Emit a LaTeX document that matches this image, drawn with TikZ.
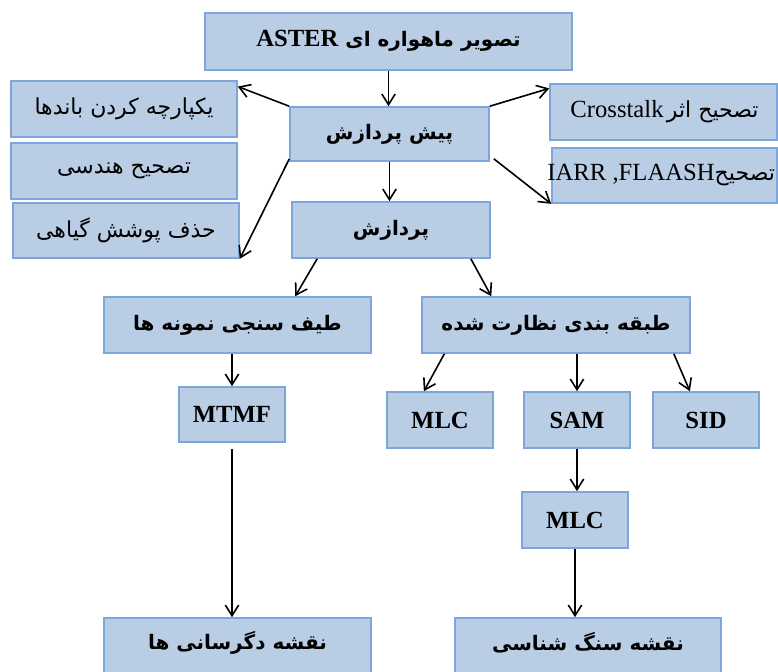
\documentclass[tikz,border=0pt]{standalone}
\usepackage{fontspec}
\setmainfont{Liberation Serif}
\newfontfamily\fa[Script=Arabic]{DejaVu Sans}
\TeXXeTstate=1
\usetikzlibrary{arrows.meta,calc,fit}
\definecolor{boxfill}{HTML}{B9CDE5}
\definecolor{boxline}{HTML}{7EA6DC}
\tikzset{
  box/.style={draw=boxline, fill=boxfill, line width=1.2pt, inner sep=0pt},
  txt/.style={inner sep=0pt, anchor=center},
  conn/.style={-{Straight Barb[length=8pt,width=10pt]}, line width=1.2pt, black},
  lat/.style={txt, font=\fontsize{18.5}{20}\selectfont\bfseries},
  fab/.style={txt, font=\fontsize{15}{18}\fa\bfseries},
  far/.style={txt, font=\fontsize{16.5}{18}\fa},
}
\newcommand\rtl[1]{\beginR #1\endR}
\begin{document}
\begin{tikzpicture}[x=0.75pt,y=-0.75pt]
\useasboundingbox (0,0) rectangle (778,671);
% boxes
\node[box,fit={(205,13)(572,70)}] (aster) {};
\node[box,fit={(290,107)(489,161)}] (pre) {};
\node[box,fit={(292,202)(490,258)}] (proc) {};
\node[box,fit={(11,81)(237,137)}] (band) {};
\node[box,fit={(11,143)(237,199)}] (geo) {};
\node[box,fit={(13,203)(239,258)}] (veg) {};
\node[box,fit={(550,84)(777,140)}] (cross) {};
\node[box,fit={(552,148)(777,203)}] (flaash) {};
\node[box,fit={(104,297)(371,353)}] (spec) {};
\node[box,fit={(422,297)(690,353)}] (cls) {};
\node[box,fit={(179,387)(285,442)}] (mtmf) {};
\node[box,fit={(387,392)(493,448)}] (mlca) {};
\node[box,fit={(524,392)(630,448)}] (sam) {};
\node[box,fit={(653,392)(759,448)}] (sid) {};
\node[box,fit={(522,492)(628,548)}] (mlcb) {};
\node[box,fit={(104,618)(371,674)}] (alt) {};
\node[box,fit={(455,618)(721,674)}] (lith) {};
% texts
\node[fab] (aster-t) at ($(aster.center)+(0,-1)$) {\rtl{تصویر ماهواره ای {\rmfamily\fontsize{18.5}{20}\selectfont\bfseries\beginL ASTER\endL}}};
\node[fab] (pre-t) at (pre.center) {\rtl{پیش پردازش}};
\node[fab] (proc-t) at (proc.center) {\rtl{پردازش}};
\node[far] (band-t) at (band.center) {\rtl{یکپارچه کردن باندها}};
\node[far] (geo-t) at (geo.center) {\rtl{تصحیح هندسی}};
\node[far] (veg-t) at (veg.center) {\rtl{حذف پوشش گیاهی}};
\node[txt] (cross-t) at ($(cross.center)+(1,0)$) {{\fontsize{18.5}{20}\selectfont Crosstalk}\ {\fa\fontsize{16.5}{18}\selectfont\rtl{تصحیح اثر}}};
\node[txt,anchor=west] (flaash-t) at ($(flaash.west)+(-4,0)$) {{\fontsize{18.5}{20}\selectfont IARR ,FLAASH}{\fa\fontsize{16.5}{18}\selectfont\rtl{تصحیح}}};
\node[fab] (spec-t) at (spec.center) {\rtl{طیف سنجی نمونه ها}};
\node[fab] (cls-t) at (cls.center) {\rtl{طبقه بندی نظارت شده}};
\node[lat] (mtmf-t) at (mtmf.center) {MTMF};
\node[lat] (mlca-t) at (mlca.center) {MLC};
\node[lat] (sam-t) at (sam.center) {SAM};
\node[lat] (sid-t) at (sid.center) {SID};
\node[lat] (mlcb-t) at (mlcb.center) {MLC};
\node[fab] (alt-t) at ($(alt.center)+(0,-3)$) {\rtl{نقشه دگرسانی ها}};
\node[fab] (lith-t) at ($(lith.center)+(0,-3)$) {\rtl{نقشه سنگ شناسی}};
% connectors
\draw[conn] (aster.south) -- (aster.south |- pre.north);
\draw[conn] (pre.south) -- (pre.south |- proc.north);
\draw[conn] (pre.north west) -- ($(band.north east)!0.11!(band.south east)$);
\draw[conn] ($(pre.north west)!0.95!(pre.south west)$) -- (veg.south east);
\draw[conn] (pre.north east) -- ($(cross.north west)!0.09!(cross.south west)$);
\draw[conn] ($(pre.south east)+(4,-3)$) -- (flaash.south west);
\draw[conn] ($(proc.south west)!0.13!(proc.south east)$) -- ($(spec.north west)!0.715!(spec.north east)$);
\draw[conn] ($(proc.south west)!0.9!(proc.south east)$) -- ($(cls.north west)!0.26!(cls.north east)$);
\draw[conn] (spec.south -| mtmf.north) -- (mtmf.north);
\draw[conn] ($(cls.south west)!0.086!(cls.south east)$) -- ($(mlca.north west)!0.35!(mlca.north east)$);
\draw[conn] (cls.south -| sam.north) -- (sam.north);
\draw[conn] ($(cls.south west)!0.937!(cls.south east)$) -- ($(sid.north west)!0.35!(sid.north east)$);
\draw[conn] ($(mtmf.south)+(0,6)$) -- (mtmf.south |- alt.north);
\draw[conn] (sam.south) -- (sam.south |- mlcb.north);
\draw[conn] (mlcb.south) -- (mlcb.south |- lith.north);
\end{tikzpicture}
\end{document}
